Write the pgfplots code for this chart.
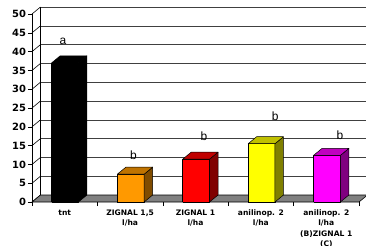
\documentclass[border=0pt]{standalone}
\usepackage{pgfplots}
\pgfplotsset{compat=1.18}
\usepackage{fontspec}
\setmainfont{DejaVu Sans}
\newfontfamily\lab{Liberation Sans}

\definecolor{orF}{HTML}{FF9900}\definecolor{orS}{HTML}{804C00}\definecolor{orT}{HTML}{C07300}
\definecolor{reF}{HTML}{FF0000}\definecolor{reS}{HTML}{800000}\definecolor{reT}{HTML}{C00000}
\definecolor{yeF}{HTML}{FFFF00}\definecolor{yeS}{HTML}{808000}\definecolor{yeT}{HTML}{C0C000}
\definecolor{maF}{HTML}{FF00FF}\definecolor{maS}{HTML}{800080}\definecolor{maT}{HTML}{C000C0}
\definecolor{gridc}{HTML}{404040}

\def\dx{0.13}
\def\dy{1.86}
\def\hw{0.205}

\newcommand{\barthreed}[5]{%
 \pgfmathsetmacro{\xl}{#1-\hw}%
 \pgfmathsetmacro{\xr}{#1+\hw}%
 \pgfmathsetmacro{\xlb}{#1-\hw+\dx}%
 \pgfmathsetmacro{\xrb}{#1+\hw+\dx}%
 \pgfmathsetmacro{\yt}{#2+\dy}%
 \edef\tmp{%
 \noexpand\addplot[draw=black, line width=0.5bp, line join=round, fill=#3] coordinates {(\xl,0) (\xr,0) (\xr,#2) (\xl,#2) (\xl,0)};
 \noexpand\addplot[draw=black, line width=0.5bp, line join=round, fill=#4] coordinates {(\xr,0) (\xrb,\dy) (\xrb,\yt) (\xr,#2) (\xr,0)};
 \noexpand\addplot[draw=black, line width=0.5bp, line join=round, fill=#5] coordinates {(\xl,#2) (\xr,#2) (\xrb,\yt) (\xlb,\yt) (\xl,#2)};
 }\tmp}

\begin{document}
\begin{tikzpicture}
\begin{scope}[x=65.4bp,y=3.76bp]
 \foreach \v in {0,5,...,50} {
   \draw[gridc, line width=0.6bp] (0.13,\v+1.86) -- (5.2,\v+1.86);
   \draw[black, line width=0.6bp] (0,\v) -- (0.13,\v+1.86);
 }
 \draw[black, line width=0.6bp] (0.13,1.86) -- (0.13,51.86);
 \filldraw[fill=gray, draw=black, line width=0.6bp] (0,0) -- (5,0) -- (5.13,1.86) -- (0.13,1.86) -- cycle;
\end{scope}
\begin{axis}[
 scale only axis, width=327bp, height=188bp,
 xmin=0, xmax=5, ymin=0, ymax=50,
 clip=false, no markers,
 separate axis lines,
 axis x line*=bottom, axis y line*=left,
 x axis line style={draw=none},
 y axis line style={black, line width=0.6bp},
 tick align=outside, major tick length=4bp,
 every tick/.style={black, line width=0.6bp},
 ytick={0,5,...,50},
 xtick={0,1,2,3,4,5}, xticklabels={},
 extra x ticks={0.5,1.5,2.5,3.5,4.5},
 extra x tick labels={tnt, ZIGNAL 1{,}5\\l/ha, ZIGNAL 1\\l/ha, anilinop. 2\\l/ha, anilinop. 2\\l/ha\\(B)ZIGNAL 1\\(C)},
 extra x tick style={major tick length=0pt, tick style={draw=none}},
 x tick label style={align=center, font=\bfseries\fontsize{7.6}{10.2}\selectfont, anchor=north, yshift=-4.5bp},
 y tick label style={font=\bfseries\fontsize{10}{10}\selectfont, xshift=1.5bp},
 /pgf/number format/assume math mode=true,
]
\barthreed{0.505}{37}{black}{black}{black}
\barthreed{1.51}{7.4}{orF}{orS}{orT}
\barthreed{2.51}{11.4}{reF}{reS}{reT}
\barthreed{3.51}{15.5}{yeF}{yeS}{yeT}
\barthreed{4.51}{12.4}{maF}{maS}{maT}
\node[anchor=base, font=\lab\fontsize{12}{12}\selectfont, inner sep=0pt] at (axis cs:0.475,41.8) {a};
\node[anchor=base, font=\lab\fontsize{12}{12}\selectfont, inner sep=0pt] at (axis cs:1.55,11.2) {b};
\node[anchor=base, font=\lab\fontsize{12}{12}\selectfont, inner sep=0pt] at (axis cs:2.63,16.3) {b};
\node[anchor=base, font=\lab\fontsize{12}{12}\selectfont, inner sep=0pt] at (axis cs:3.72,21.6) {b};
\node[anchor=base, font=\lab\fontsize{12}{12}\selectfont, inner sep=0pt] at (axis cs:4.71,16.7) {b};
\end{axis}
\pgfresetboundingbox
\path[use as bounding box] (-32bp,-44bp) rectangle (334bp,202bp);
\end{tikzpicture}
\end{document}
